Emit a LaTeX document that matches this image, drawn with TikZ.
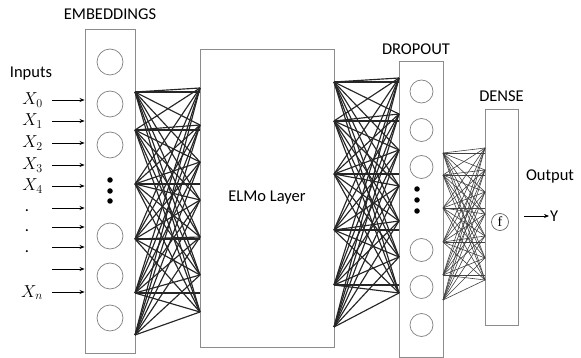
\documentclass[tikz,border=0pt]{standalone}
\usepackage{fontspec}
\setmainfont{Carlito}
\newfontfamily\fserif{Liberation Serif}
\usetikzlibrary{arrows.meta,positioning}

\begin{document}
\begin{tikzpicture}[x=1pt,y=-1pt,
    layer/.style={draw=gray!90,line width=0.9pt,inner sep=0pt},
    unit/.style={circle,draw=gray,line width=0.7pt,minimum size=26pt,inner sep=0pt},
    bead/.style={circle,fill=black,minimum size=5.5pt,inner sep=0pt},
    link/.style={black!85,line width=1.15pt},
    fine/.style={black!75,line width=0.6pt},
    arr/.style={-{Stealth[length=5pt,width=4pt]},line width=0.7pt},
    lbl/.style={font=\fontsize{16.5}{18}\selectfont,inner sep=1pt},
    xlbl/.style={font=\fontsize{17}{19}\selectfont,anchor=base east,inner sep=0pt}]
  \useasboundingbox (0,0) rectangle (581,358);
  % layers
  \node[layer,minimum width=50pt,minimum height=324pt] (emb) at (110,191) {};
  \node[layer,minimum width=134pt,minimum height=298pt,lbl] (elmo) at (267,198) {ELMo Layer};
  \node[layer,minimum width=44pt,minimum height=296pt] (drop) at (421,209) {};
  \node[layer,minimum width=33pt,minimum height=216pt] (dense) at (501.5,217) {};
  \node[lbl,above=8pt of emb] (embname) {EMBEDDINGS};
  \node[lbl,above=5pt of drop,xshift=-5pt] (dropname) {DROPOUT};
  \node[lbl,above=6pt of dense] (densename) {DENSE};
  \node[lbl] (inname) at (31,74) {Inputs};
  \node[lbl] (outname) at (550,176) {Output};
  % units
  \foreach \y [count=\i] in {62,104,145,236,276,318}
    \node[unit] (e\i) at (110,\y) {};
  \foreach \y [count=\i] in {180,191,201}
    \node[bead] (ed\i) at (110,\y) {};
  \foreach \y [count=\i] in {91.5,130,167,250,287,325}
    \node[unit,minimum size=23pt] (d\i) at (421.5,\y) {};
  \foreach \y [count=\i] in {189,200,211}
    \node[bead] (dd\i) at (417,\y) {};
  % embeddings -> elmo
  \foreach \a [count=\i] in {92,130,184,239,293,335}
    \coordinate (p\i) at (135,\a);
  \foreach \b [count=\j] in {88,125,162,200,237,275,312}
    \coordinate (q\j) at (200,\b);
  \foreach \i in {1,...,6}
    \foreach \j in {1,...,7}
      \draw[link] (p\i) -- (q\j);
  \foreach \i in {1,...,5}
    \draw[link] (p\i) -- (p\i -| elmo.west);
  % elmo -> dropout
  \foreach \a [count=\i] in {82,121,174,230,285,327}
    \coordinate (r\i) at (334,\a);
  \foreach \b [count=\j] in {78,114,150,186,221,257,293}
    \coordinate (s\j) at (399,\b);
  \foreach \i in {1,...,6}
    \foreach \j in {1,...,7}
      \draw[link] (r\i) -- (s\j);
  \foreach \i in {1,...,5}
    \draw[link] (r\i) -- (r\i -| drop.west);
  % dropout -> dense
  \foreach \a [count=\i] in {153,175,208,242,275,300}
    \coordinate (u\i) at (443,\a);
  \foreach \b [count=\j] in {148,170,192,214,236,258,280}
    \coordinate (v\j) at (485,\b);
  \foreach \i in {1,...,6}
    \foreach \j in {1,...,7}
      \draw[fine] (u\i) -- (v\j);
  \foreach \i in {1,...,5}
    \draw[fine] (u\i) -- (u\i -| dense.west);
  % inputs
  \foreach \y [count=\k] in {100,121,143,165,186,208,227,247,269,292} {
    \coordinate (in\k) at (52,\y);
    \draw[arr] (in\k) -- (in\k -| emb.west);
  }
  \foreach \y/\t in {100/0,121/1,143/2,165/3,186/4,292/n}
    \node[xlbl] (x\t) at (43,\y+5) {$X_{\t}$};
  \foreach \y [count=\k] in {212,232,252}
    \node[lbl,anchor=base,inner sep=0pt] (gap\k) at (27,\y) {.};
  % output
  \node[circle,draw=gray!80!black,line width=0.7pt,minimum size=17pt,inner sep=0pt,
    font=\fontsize{14}{14}\fserif] (fn) at (500,222) {f};
  \coordinate (ystart) at (524,216);
  \node[lbl,anchor=west] (yout) at (549,216) {Y};
  \draw[arr] (ystart) -- (yout.west);
\end{tikzpicture}
\end{document}
